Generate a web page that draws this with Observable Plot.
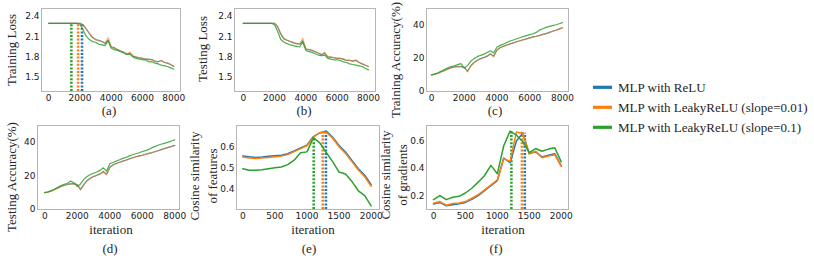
<!DOCTYPE html>
<html><head><meta charset="utf-8">
<script src="https://cdn.jsdelivr.net/npm/d3@7"></script>
<script src="https://cdn.jsdelivr.net/npm/@observablehq/plot@0.6"></script>
<style>
html,body{margin:0;padding:0;background:#fff;}
#fig{position:relative;width:814px;height:261px;overflow:hidden;background:#fff;}
#fig svg{position:absolute;max-width:none;}
</style></head><body><div id="fig"></div>
<script>
// ---------- data ----------
const seriesNames = ["MLP with ReLU", "MLP with LeakyReLU (slope=0.01)", "MLP with LeakyReLU (slope=0.1)"];
const colors = ["#1f77b4", "#ff7f0e", "#2ca02c"];

const iterLong = [0,200,400,600,800,1000,1200,1400,1600,1800,2000,2200,2400,2600,2800,3000,3200,3400,3600,3800,4000,4200,4400,4600,4800,5000,5200,5400,5600,5800,6000,6200,6400,6600,6800,7000,7200,7400,7600,7800,8000];
const iterShort = [0,100,200,300,400,500,600,700,800,900,1000,1100,1200,1300,1400,1500,1600,1700,1800,1900,2000];

const trainLossReLU = [2.30,2.30,2.30,2.30,2.30,2.30,2.30,2.30,2.30,2.30,2.30, 2.28,2.22,2.15,2.09,2.06,2.05,2.03,2.00,2.05,1.95, 1.94,1.91,1.89,1.87,1.84,1.86,1.81,1.80,1.79,1.78, 1.77,1.77,1.76,1.74,1.73,1.75,1.72,1.71,1.69,1.66];
const trainLossLeaky001 = [2.30,2.30,2.30,2.30,2.30,2.30,2.30,2.30,2.30,2.30,2.30, 2.27,2.21,2.15,2.10,2.06,2.04,2.03,2.01,2.09,1.95, 1.93,1.91,1.89,1.87,1.85,1.87,1.82,1.80,1.79,1.78, 1.77,1.76,1.76,1.74,1.73,1.75,1.72,1.71,1.69,1.66];
const trainLossLeaky01 = [2.30,2.30,2.30,2.30,2.30,2.30,2.30,2.30,2.30,2.30,2.29, 2.20,2.11,2.06,2.03,2.02,1.99,1.98,1.97,2.04,1.93, 1.91,1.90,1.88,1.86,1.84,1.84,1.80,1.78,1.77,1.76, 1.76,1.73,1.73,1.71,1.70,1.68,1.67,1.66,1.64,1.62];
const trainLossSwitch = [2130, 1880, 1450];

const testLossReLU = [2.30,2.30,2.30,2.30,2.30,2.30,2.30,2.30,2.30,2.30,2.30, 2.25,2.14,2.07,2.05,2.03,2.01,2.00,1.99,2.04,1.92, 1.91,1.90,1.88,1.86,1.83,1.86,1.80,1.80,1.79,1.78, 1.78,1.77,1.75,1.75,1.74,1.75,1.72,1.70,1.68,1.66];
const testLossLeaky001 = [2.30,2.30,2.30,2.30,2.30,2.30,2.30,2.30,2.30,2.30,2.30, 2.25,2.15,2.08,2.05,2.03,2.02,2.00,1.99,2.08,1.92, 1.91,1.90,1.88,1.86,1.84,1.87,1.81,1.80,1.79,1.78, 1.78,1.77,1.75,1.75,1.74,1.76,1.72,1.70,1.68,1.66];
const testLossLeaky01 = [2.30,2.30,2.30,2.30,2.30,2.30,2.30,2.30,2.30,2.30,2.28, 2.18,2.06,2.02,2.00,1.98,1.97,1.96,1.95,2.02,1.90, 1.88,1.87,1.85,1.83,1.82,1.83,1.78,1.77,1.76,1.76, 1.75,1.73,1.72,1.70,1.69,1.68,1.67,1.66,1.63,1.61];

const trainAccReLU = [10.0,10.4,11.0,11.9,12.7,13.6,14.3,14.8,15.1,15.0,14.7, 12.2,15.5,17.5,18.8,19.8,20.5,21.3,22.6,21.3,25.0, 26.5,27.3,28.0,28.7,29.3,30.0,30.6,31.2,31.7,32.3, 32.9,33.3,33.8,34.4,34.9,35.6,36.3,36.9,37.7,38.4];
const trainAccLeaky001 = [10.0,10.3,10.9,11.8,12.6,13.5,14.2,14.7,15.0,14.9,14.5, 11.8,15.2,17.3,18.6,19.7,20.3,21.1,22.9,20.9,24.8, 26.3,27.2,27.9,28.6,29.2,29.9,30.5,31.1,31.6,32.2, 32.8,33.2,33.7,34.3,34.8,35.5,36.2,36.8,37.6,38.3];
const trainAccLeaky01 = [10.0,10.6,11.3,12.3,13.3,14.3,15.0,15.5,16.2,16.8,14.0, 15.6,18.2,19.8,21.0,21.8,22.5,23.5,24.5,23.2,26.8, 27.8,28.6,29.5,30.4,31.0,31.8,32.4,33.1,33.7,34.3, 34.8,35.6,37.0,37.8,38.6,39.2,39.7,40.2,40.8,41.5];

const testAccReLU = [10.0,10.4,11.0,11.9,12.8,13.7,14.4,15.0,15.3,15.4,14.8, 12.0,15.0,17.2,18.6,19.6,20.4,21.2,22.5,21.0,25.2, 26.6,27.4,28.1,28.8,29.4,30.2,30.8,31.4,31.9,32.3, 32.9,33.4,33.9,34.5,35.1,35.8,36.4,37.0,37.6,38.2];
const testAccLeaky001 = [10.0,10.3,10.9,11.8,12.7,13.6,14.3,14.9,15.2,15.2,14.5, 11.6,14.7,17.0,18.5,19.5,20.3,21.0,22.8,20.6,25.0, 26.4,27.3,28.0,28.7,29.3,30.0,30.7,31.3,31.8,32.2, 32.8,33.3,33.8,34.4,35.0,35.6,36.3,36.9,37.5,38.1];
const testAccLeaky01 = [10.0,10.5,11.2,12.2,13.2,14.2,15.0,15.6,16.9,15.8,13.6, 15.2,18.0,19.6,20.8,21.6,22.3,23.3,24.8,22.8,27.2, 28.0,28.8,29.6,30.4,31.0,31.9,32.6,33.2,33.8,34.5, 35.0,35.8,36.8,37.6,38.4,39.0,39.5,40.1,40.8,41.4];

const cosFeatReLU = [0.557,0.553,0.550,0.552,0.555,0.558,0.560,0.567,0.580,0.594,0.608,0.648,0.665,0.674,0.645,0.606,0.575,0.536,0.497,0.466,0.422];
const cosFeatLeaky001 = [0.552,0.547,0.545,0.547,0.550,0.553,0.556,0.563,0.577,0.591,0.605,0.645,0.667,0.668,0.640,0.600,0.569,0.530,0.491,0.459,0.414];
const cosFeatLeaky01 = [0.497,0.490,0.489,0.492,0.497,0.501,0.505,0.516,0.537,0.572,0.576,0.643,0.618,0.573,0.530,0.481,0.472,0.437,0.393,0.370,0.322];
const cosFeatPeakIter = [1295, 1245, 1105];
const cosFeatPeakValue = [0.674, 0.668, 0.643];

const cosGradReLU = [0.144,0.156,0.132,0.140,0.147,0.156,0.178,0.205,0.240,0.276,0.312,0.476,0.442,0.600,0.655,0.508,0.520,0.484,0.496,0.507,0.422];
const cosGradLeaky001 = [0.150,0.162,0.136,0.148,0.152,0.162,0.186,0.212,0.246,0.282,0.318,0.470,0.452,0.664,0.650,0.505,0.525,0.478,0.490,0.500,0.415];
const cosGradLeaky01 = [0.176,0.205,0.176,0.193,0.200,0.224,0.258,0.302,0.350,0.423,0.362,0.564,0.670,0.640,0.593,0.515,0.544,0.525,0.540,0.550,0.450];
const cosGradPeakIter = [1430, 1385, 1220];
const cosGradPeakValue = [0.655, 0.662, 0.665];

const xTicksLong = [0, 2000, 4000, 6000, 8000];
const xTicksShort = [0, 500, 1000, 1500, 2000];

// ---------- layout ----------
const panels = [
  {frame:[41,8,180,91], xDomain:[-460,8430], yDomain:[1.29,2.52], xTicks:xTicksLong, yTicks:[1.5,1.8,2.1,2.4], fmt:".1f", x:iterLong,
   ys:[trainLossReLU,trainLossLeaky001,trainLossLeaky01], rx:trainLossSwitch, rtop:[2.30,2.30,2.30], lw:1.2, thin:true,
   ylab:["Training Loss"], ylabX:[16], ylabY:50, letter:"(a)", letterX:109, letterY:114.5},
  {frame:[234,8,375,91], xDomain:[-560,8450], yDomain:[1.29,2.52], xTicks:xTicksLong, yTicks:[1.5,1.8,2.1,2.4], fmt:".1f", x:iterLong,
   ys:[testLossReLU,testLossLeaky001,testLossLeaky01], lw:1.2, thin:true,
   ylab:["Testing Loss"], ylabX:[207], ylabY:49, letter:"(b)", letterX:304, letterY:114.5},
  {frame:[426,8,568,91], xDomain:[-305,8370], yDomain:[0,50], xTicks:xTicksLong, yTicks:[0,20,40], fmt:"d", x:iterLong,
   ys:[trainAccReLU,trainAccLeaky001,trainAccLeaky01], lw:1.2, thin:true,
   ylab:["Training Accuracy(%)"], ylabX:[400], ylabY:60, letter:"(c)", letterX:495, letterY:114.5},
  {frame:[37,125,179,209], xDomain:[-450,8290], yDomain:[0,50], xTicks:xTicksLong, yTicks:[0,20,40], fmt:"d", x:iterLong,
   ys:[testAccReLU,testAccLeaky001,testAccLeaky01], lw:1.2, thin:true,
   ylab:["Testing Accuracy(%)"], ylabX:[15.5], ylabY:177, xlabX:111, letter:"(d)", letterX:110, letterY:252.5},
  {frame:[236,125,379,209], xDomain:[-98,2130], yDomain:[0.305,0.70], xTicks:xTicksShort, yTicks:[0.4,0.5,0.6], fmt:".1f", x:iterShort,
   ys:[cosFeatReLU,cosFeatLeaky001,cosFeatLeaky01], rx:cosFeatPeakIter, rtop:cosFeatPeakValue, lw:1.5,
   ylab:["Cosine similarity","of features"], ylabX:[199,217], ylabY:176, xlabX:313, letter:"(e)", letterX:309, letterY:252.5},
  {frame:[426,125,568,209], xDomain:[-110,2115], yDomain:[0.105,0.71], xTicks:xTicksShort, yTicks:[0.2,0.4,0.6], fmt:".1f", x:iterShort,
   ys:[cosGradReLU,cosGradLeaky001,cosGradLeaky01], rx:cosGradPeakIter, rtop:cosGradPeakValue, lw:1.5,
   ylab:["Cosine similarity","of gradients"], ylabX:[390,407], ylabY:175, xlabX:503, letter:"(f)", letterX:496, letterY:252.5}
];

const fig = document.getElementById("fig");
const mL = 40, mR = 14, mT = 6, mB = 24;

panels.forEach(p => {
  const [x0, y0, x1, y1] = p.frame;
  const marks = [Plot.frame({stroke: "#b5b5b5"})];
  if (p.rx) {
    p.rx.forEach((rx, k) => {
      marks.push(Plot.ruleX([{x: rx, y1: p.yDomain[0], y2: p.rtop[k]}],
        {x: "x", y1: "y1", y2: "y2", stroke: colors[k], strokeWidth: 2.6, strokeDasharray: "2,1.6"}));
    });
  }
  p.ys.forEach((arr, k) => {
    const rows = arr.map((v, i) => ({x: p.x[i], y: v}));
    marks.push(Plot.line(rows, {x: "x", y: "y", stroke: colors[k], strokeWidth: p.lw,
      strokeOpacity: p.thin ? (k === 1 ? 0.6 : 0.85) : 1}));
  });
  marks.push(Plot.axisX({ticks: p.xTicks, tickSize: 0, tickPadding: 3, tickFormat: d3.format("d"), label: null}));
  marks.push(Plot.axisY({ticks: p.yTicks, tickSize: 0, tickPadding: 2, tickFormat: d3.format(p.fmt), label: null}));
  const svg = Plot.plot({
    width: x1 - x0 + mL + mR, height: y1 - y0 + mT + mB,
    marginLeft: mL, marginRight: mR, marginTop: mT, marginBottom: mB,
    x: {domain: p.xDomain}, y: {domain: p.yDomain},
    style: {background: "transparent", fontFamily: "'DejaVu Sans'", fontSize: "9px", color: "#1a1a1a", overflow: "visible"},
    marks
  });
  svg.style.left = (x0 - mL) + "px";
  svg.style.top = (y0 - mT) + "px";
  fig.appendChild(svg);
});

// ---------- text overlay (labels, panel letters, legend) ----------
const ov = d3.select(fig).append("svg")
  .attr("width", 814).attr("height", 261)
  .style("left", "0px").style("top", "0px")
  .style("font-family", "'Liberation Serif', 'Times New Roman', serif")
  .style("font-size", "13px").style("fill", "#262626");

panels.forEach(p => {
  p.ylab.forEach((t, j) => {
    ov.append("text").attr("transform", `translate(${p.ylabX[j]},${p.ylabY}) rotate(-90)`)
      .attr("text-anchor", "middle").text(t);
  });
  if (p.xlabX) ov.append("text").attr("x", p.xlabX).attr("y", 234).attr("text-anchor", "middle").text("iteration");
  ov.append("text").attr("x", p.letterX).attr("y", p.letterY).attr("text-anchor", "middle").text(p.letter);
});

const legendRows = [87.3, 107.3, 127.3];
seriesNames.forEach((name, k) => {
  ov.append("line").attr("x1", 593).attr("x2", 612).attr("y1", legendRows[k]).attr("y2", legendRows[k])
    .attr("stroke", colors[k]).attr("stroke-width", 3.2);
  ov.append("text").attr("x", 618).attr("y", legendRows[k] + 4.4).text(name);
});
</script></body></html>
